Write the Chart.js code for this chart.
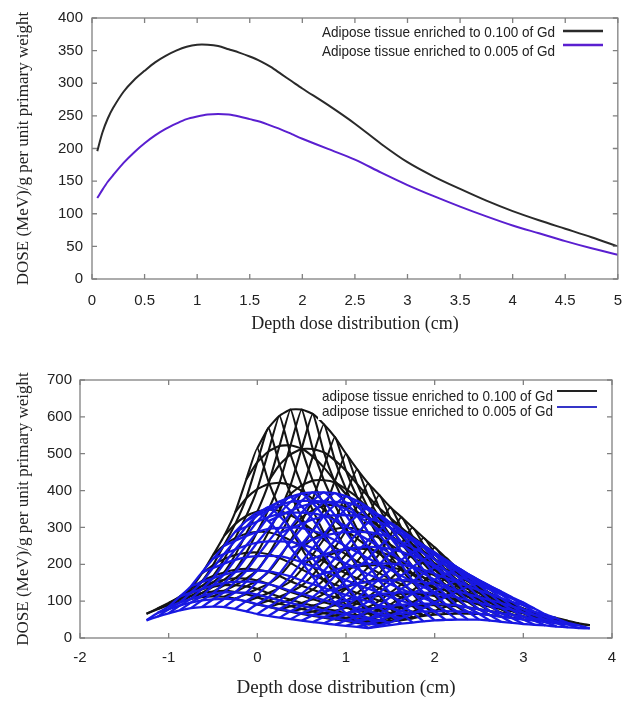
<!DOCTYPE html>
<html><head><meta charset="utf-8">
<script src="https://cdn.jsdelivr.net/npm/chart.js@4.4.0/dist/chart.umd.min.js"></script>
<style>
html,body{margin:0;padding:0;background:#fff;width:635px;height:702px;overflow:hidden;}
canvas{position:absolute;left:0;}
#c1{top:0;} #c2{top:345px;}
</style></head><body>
<canvas id="c1" width="635" height="345"></canvas>
<canvas id="c2" width="635" height="357"></canvas>
<script>
// ---------- top chart data ----------
const topDepth = [0.05,0.1,0.15,0.2,0.3,0.4,0.5,0.6,0.7,0.8,0.9,1.0,1.1,1.2,1.3,1.4,1.5,1.6,1.7,1.8,1.9,2.0,2.25,2.5,2.75,3.0,3.25,3.5,3.75,4.0,4.25,4.5,4.75,5.0];
const topGd100 = [196,225,246,262,287,305,319,332,342,350,356,359,359,357,352,347,341,334,325,314,303,292,266,238,207,179,157,138,120,104,90,77,64,50];
const topGd005 = [124,137,149,159,178,194,208,220,230,238,245,249,252,253,252,249,245,241,235,229,222,215,199,183,163,144,127,111,96,82,70,58,47,37];
const topLabels = ['Adipose tissue enriched to 0.100 of Gd','Adipose tissue enriched to 0.005 of Gd'];
const topXTicks = [0,0.5,1,1.5,2,2.5,3,3.5,4,4.5,5];
const topYTicks = [0,50,100,150,200,250,300,350,400];

// ---------- bottom chart data (projected surface mesh) ----------
const botLabels = ['adipose tissue enriched to 0.100 of Gd','adipose tissue enriched to 0.005 of Gd'];
const botXTicks = [-2,-1,0,1,2,3,4];
const botYTicks = [0,100,200,300,400,500,600,700];
const meshDepthX = [-1.25,-1.125,-1.0,-0.875,-0.75,-0.625,-0.5,-0.375,-0.25,-0.125,0,0.125,0.25,0.375,0.5,0.625,0.75,0.875,1.0,1.125,1.25];
const meshLateralShift = [0,0.125,0.25,0.375,0.5,0.625,0.75,0.875,1.0,1.125,1.25,1.375,1.5,1.625,1.75,1.875,2.0,2.125,2.25,2.375,2.5];
const meshGd100 = [
 [66,80,95,112,135,175,225,277,341,430,515,425,353,295,243,195,157,123,90,61,37],
 [78,93,110,128,154,198,252,309,379,477,570,470,391,327,269,216,174,137,100,68,42],
 [89,105,122,141,168,214,271,331,404,506,603,498,414,347,286,231,186,147,108,75,47],
 [98,114,132,151,178,225,283,343,418,521,620,513,427,359,296,239,194,154,115,80,52],
 [106,122,139,158,185,231,288,348,421,523,620,513,428,361,299,242,197,158,118,84,56],
 [111,126,143,162,188,232,287,345,415,514,608,504,422,356,296,241,197,159,120,87,60],
 [113,128,143,161,185,227,278,333,399,492,580,482,404,342,285,234,192,156,120,89,63],
 [112,125,140,156,179,217,265,316,377,463,545,454,382,324,271,223,185,151,118,89,65],
 [107,119,133,147,168,203,246,292,348,426,500,418,352,300,253,209,175,144,114,88,66],
 [99,110,122,136,154,186,226,268,319,390,458,384,325,278,235,195,164,137,109,86,66],
 [91,101,112,125,142,171,208,246,292,358,420,353,299,257,218,182,154,129,104,83,65],
 [84,93,104,115,131,158,192,227,270,331,388,326,277,238,202,170,144,121,98,78,62],
 [77,86,95,105,120,145,175,208,247,302,355,299,254,218,186,156,132,112,91,73,58],
 [71,79,88,97,111,134,162,192,228,279,328,276,235,202,172,145,123,104,85,69,55],
 [65,72,80,89,101,122,148,176,209,256,300,253,215,186,158,133,113,96,78,64,51],
 [60,67,74,82,93,112,135,160,190,232,272,230,196,169,144,122,104,88,73,59,48],
 [55,61,67,75,84,101,123,145,172,210,246,208,178,154,131,111,95,81,67,55,45],
 [50,55,61,67,76,91,110,129,153,186,218,185,158,137,118,100,86,74,61,51,42],
 [46,50,55,61,68,81,97,114,134,163,190,162,139,121,104,89,77,66,56,47,39],
 [41,45,49,54,60,71,85,99,116,141,164,140,121,106,92,79,69,60,51,43,37],
 [37,40,44,48,53,62,74,85,100,121,140,120,104,92,80,70,61,54,47,40,35]
];
const meshGd005 = [
 [48,68,85,112,140,178,215,250,288,318,340,317,284,244,206,166,126,96,67,48,27],
 [58,78,96,123,152,190,228,264,302,333,355,331,297,255,216,175,133,102,72,53,31],
 [67,88,106,133,162,202,240,277,316,347,370,345,310,267,227,184,141,108,78,58,35],
 [75,96,114,143,172,212,251,288,328,360,383,357,322,277,236,192,147,114,83,62,39],
 [81,102,121,149,179,219,259,296,337,369,392,366,330,284,242,198,152,119,87,66,42],
 [84,105,124,152,182,222,262,299,340,372,395,369,333,287,245,201,155,122,90,69,45],
 [85,106,124,153,183,223,262,300,340,372,395,369,333,288,247,202,157,124,92,72,48],
 [84,105,123,152,181,222,261,298,338,370,393,367,332,287,246,202,157,124,93,72,49],
 [79,100,118,146,175,215,254,291,331,362,385,360,325,282,242,199,156,123,93,73,50],
 [72,92,110,138,167,206,244,280,319,350,372,348,315,273,234,193,151,121,91,72,50],
 [65,85,102,128,156,194,230,265,303,332,354,331,300,260,224,185,146,117,89,71,50],
 [60,79,95,120,146,182,216,249,284,313,333,312,282,245,211,174,137,110,83,66,47],
 [55,73,88,111,136,169,202,233,266,293,312,292,264,230,197,163,128,103,78,62,44],
 [51,67,81,103,126,157,188,216,248,272,290,271,246,213,183,152,119,96,73,58,41],
 [47,62,75,95,117,145,173,200,229,251,268,251,227,197,170,140,111,88,67,54,38],
 [43,57,69,88,108,134,160,185,212,233,248,232,210,183,157,130,103,82,63,50,36],
 [40,53,64,81,99,123,146,169,193,212,226,212,192,167,144,119,95,76,58,47,34],
 [36,48,58,73,89,111,133,153,175,192,205,192,174,151,131,108,86,69,53,43,31],
 [33,43,52,66,81,101,120,138,158,174,185,173,157,137,118,98,78,63,49,40,29],
 [30,39,47,60,73,91,108,124,142,156,166,156,141,123,107,89,71,57,45,37,27],
 [27,35,42,54,65,81,96,111,127,139,148,139,126,110,96,80,64,53,41,34,26]
];

const SANS = "'Liberation Sans', Arial, sans-serif";
const SERIF = "'Liberation Serif', 'Times New Roman', serif";
const YTITLE = 'DOSE (MeV)/g per unit primary weight';
const XTITLE = 'Depth dose distribution (cm)';

// frame, inward ticks and gnuplot-style legend
const gnuFrame = {
  id: 'gnuFrame',
  afterDatasetsDraw(chart, args, o) {
    const {ctx, chartArea: a, scales} = chart;
    ctx.save();
    const lg = o.legend;
    if (lg.box) {
      ctx.fillStyle = '#fff';
      ctx.fillRect(lg.box[0], a.top + lg.box[1], lg.box[2] - lg.box[0], lg.box[3] - lg.box[1]);
    }
    ctx.font = '15px ' + SANS;
    ctx.textAlign = 'right';
    ctx.textBaseline = 'middle';
    lg.labels.forEach((t, k) => {
      ctx.fillStyle = '#222';
      ctx.fillText(t, lg.textRight, a.top + lg.textY[k], lg.textWidth);
      ctx.strokeStyle = lg.colors[k];
      ctx.lineWidth = lg.lineW;
      ctx.beginPath();
      ctx.moveTo(lg.lineX[0], a.top + lg.lineY[k]);
      ctx.lineTo(lg.lineX[1], a.top + lg.lineY[k]);
      ctx.stroke();
    });
    ctx.strokeStyle = '#808080';
    ctx.lineWidth = 1.3;
    ctx.strokeRect(a.left, a.top, a.right - a.left, a.bottom - a.top);
    ctx.beginPath();
    const L = 5;
    scales.x.ticks.forEach(t => {
      const px = scales.x.getPixelForValue(t.value);
      ctx.moveTo(px, a.bottom); ctx.lineTo(px, a.bottom - L);
      ctx.moveTo(px, a.top); ctx.lineTo(px, a.top + L);
    });
    scales.y.ticks.forEach(t => {
      const py = scales.y.getPixelForValue(t.value);
      ctx.moveTo(a.left, py); ctx.lineTo(a.left + L, py);
      ctx.moveTo(a.right, py); ctx.lineTo(a.right - L, py);
    });
    ctx.stroke();
    ctx.restore();
  }
};

function axes(xmin, xmax, xt, ymin, ymax, yt, yW, xH, xTitleSize, xTitlePad, xTickPad, yTickPad) {
  return {
    x: {
      type: 'linear', min: xmin, max: xmax,
      afterBuildTicks: s => { s.ticks = xt.map(v => ({value: v})); },
      afterFit: s => { s.height = xH; },
      grid: {display: false, drawTicks: false}, border: {display: false},
      ticks: {font: {family: SANS, size: 15}, color: '#222', padding: xTickPad, maxRotation: 0, autoSkip: false, callback: v => String(v)},
      title: {display: true, text: XTITLE, font: {family: SERIF, size: xTitleSize}, color: '#222', padding: {top: 0, bottom: xTitlePad}}
    },
    y: {
      type: 'linear', min: ymin, max: ymax,
      afterBuildTicks: s => { s.ticks = yt.map(v => ({value: v})); },
      afterFit: s => { s.width = yW; },
      grid: {display: false, drawTicks: false}, border: {display: false},
      ticks: {font: {family: SANS, size: 15}, color: '#222', padding: yTickPad, autoSkip: false, callback: v => String(v)},
      title: {display: true, text: YTITLE, font: {family: SERIF, size: 17}, color: '#222', padding: {top: 13, bottom: 0}}
    }
  };
}

const common = {
  responsive: false, animation: false, events: [],
  plugins: {legend: {display: false}, tooltip: {enabled: false}}
};

// ---------- top chart ----------
const c1Colors = ['#2a2a2a', '#5a1fd0'];
new Chart(document.getElementById('c1'), {
  type: 'scatter',
  data: {
    datasets: [topGd100, topGd005].map((vals, k) => ({
      label: topLabels[k],
      data: vals.map((y, i) => ({x: topDepth[i], y})),
      showLine: true, borderColor: c1Colors[k], borderWidth: 2, pointRadius: 0, tension: 0.3, fill: false
    }))
  },
  options: Object.assign({}, common, {
    layout: {padding: {left: 0, right: 17, top: 12, bottom: 0}},
    scales: axes(0, 5, topXTicks, 0, 400, topYTicks, 92, 66, 18, 10, 13, 9),
    plugins: Object.assign({}, common.plugins, {
      gnuFrame: {legend: {labels: topLabels, colors: c1Colors, textRight: 555, textWidth: 233,
        textY: [15, 34], lineX: [563, 603], lineY: [13, 27], lineW: 2.5, box: null}}
    })
  }),
  plugins: [gnuFrame]
});

// ---------- bottom chart ----------
const c2Colors = ['#141414', '#1818e2'];
function meshDatasets(grid, color, width, label, order) {
  const ds = [];
  const style = {showLine: true, borderColor: color, borderWidth: width, pointRadius: 0, tension: 0.15, fill: false};
  grid.forEach((row, i) => ds.push(Object.assign({
    label, order,
    data: row.map((y, j) => ({x: meshDepthX[i] + meshLateralShift[j], y}))
  }, style)));
  meshLateralShift.forEach((s, j) => ds.push(Object.assign({
    label, order,
    data: grid.map((row, i) => ({x: meshDepthX[i] + s, y: row[j]}))
  }, style)));
  return ds;
}
new Chart(document.getElementById('c2'), {
  type: 'scatter',
  data: {
    datasets: meshDatasets(meshGd005, c2Colors[1], 2.3, botLabels[1], 0)
      .concat(meshDatasets(meshGd100, c2Colors[0], 2.1, botLabels[0], 1))
  },
  options: Object.assign({}, common, {
    layout: {padding: {left: 0, right: 23, top: 35, bottom: 0}},
    scales: axes(-2, 4, botXTicks, 0, 700, botYTicks, 80, 64, 19, 3, 11, 8),
    plugins: Object.assign({}, common.plugins, {
      gnuFrame: {legend: {labels: botLabels, colors: ['#222', '#3535c8'], textRight: 553, textWidth: 231,
        textY: [17, 32], lineX: [557, 597], lineY: [11, 27], lineW: 2, box: [318, 2, 602, 40]}}
    })
  }),
  plugins: [gnuFrame]
});
</script>
</body></html>
